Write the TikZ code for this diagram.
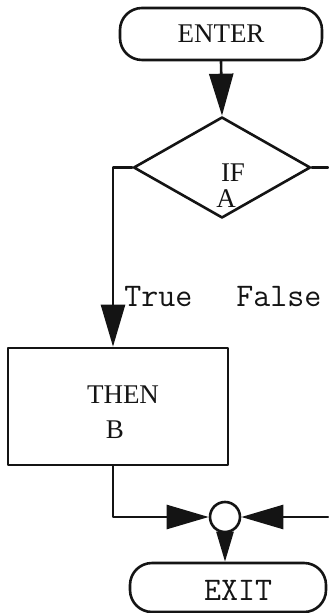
\documentclass[tikz,border=0pt]{standalone}
\usepackage{fontspec}
\setmainfont{Liberation Serif}
\usetikzlibrary{shapes.geometric,arrows.meta}
\definecolor{scanink}{HTML}{141414}
\tikzset{
  flow line/.style={scanink, line width=1.3pt},
  flow arrow/.style={flow line, -{Triangle[length=21pt,width=12pt]}},
  short arrow/.style={flow line, -{Triangle[length=15pt,width=8.5pt]}},
  terminal box/.style={draw=scanink, line width=1.3pt, rounded corners=11pt, inner sep=0pt},
  process box/.style={draw=scanink, line width=1.3pt, rectangle, inner sep=0pt, minimum width=110pt, minimum height=58.5pt},
  decision box/.style={draw=scanink, line width=1.3pt, diamond, inner sep=0pt, minimum width=88.5pt, minimum height=50.5pt},
  junction dot/.style={draw=scanink, line width=1.3pt, circle, fill=white, inner sep=0pt, minimum size=15pt},
  serif text/.style={scanink, inner sep=0pt, font=\fontsize{13.5}{16}\selectfont},
  tt text/.style={scanink, inner sep=0pt, font=\ttfamily\fontsize{16.5}{18}\selectfont},
}

\begin{document}
\begin{tikzpicture}[x=0.5pt, y=-0.5pt, line cap=round, line join=round]
  \useasboundingbox (0,0) rectangle (328,613);

  % boxes
  \node[terminal box, minimum width=101pt, minimum height=26pt, serif text] (enter) at (221,34) {ENTER};
  \node[decision box] (test) at (222,167.5) {};
  \node[serif text] (ifword) at (233,173) {IF};
  \node[serif text] (avar) at (226,199) {A};
  \node[process box] (then) at (118,406.5) {};
  \node[serif text] (thenword) at (123,395) {THEN};
  \node[serif text] (bvar) at (115,430) {B};
  \node[junction dot] (join) at (225,517) {};
  \node[terminal box, minimum width=98pt, minimum height=24.5pt] (exit) at (228,587.5) {};
  \node[tt text] (exitword) at (238,590) {EXIT};

  % branch labels
  \node[tt text, anchor=west] (truelbl) at (124,297) {True};
  \node[tt text, anchor=west] (falselbl) at (236,297) {False};

  \coordinate (tleft) at (113,167.5);
  \coordinate (bleft) at (113,517);
  \coordinate (fright) at (328,167.5);
  \coordinate (jright) at (328,517);

  % connectors
  \draw[flow arrow] (enter.south) -- (test.north);
  \draw[flow arrow] (test.west) -- (tleft) -- (tleft |- then.north);
  \draw[flow line] (test.east) -- (fright);
  \draw[flow arrow] (then.south -| bleft) -- (bleft) -- (join.west);
  \draw[flow arrow] (jright) -- (join.east);
  \draw[short arrow] (join.south) -- (join.south |- exit.north);
\end{tikzpicture}
\end{document}
